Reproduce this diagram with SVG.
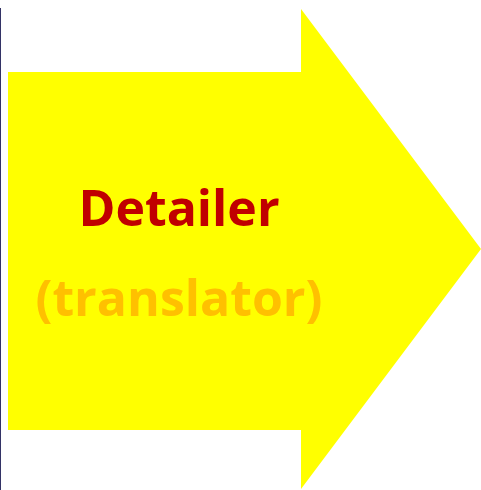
<svg xmlns="http://www.w3.org/2000/svg" width="481" height="490" viewBox="0 0 481 490">
<style>
.lbl{font-family:"Open Sans","Noto Sans",sans-serif;font-weight:bold;text-anchor:middle}
</style>
<rect width="481" height="490" fill="#ffffff"/>
<line x1="0.5" y1="8" x2="0.5" y2="490" stroke="#333366" stroke-width="1"/>
<g id="arrow">
<polygon points="8,72 301,72 301,9 481,249 301,489 301,430 8,430" fill="#ffff00"/>
<text class="lbl" x="179" y="226" font-size="50" fill="#c00000">Detailer</text>
<text class="lbl" x="179" y="316" font-size="50" fill="#ffc000">(translator)</text>
</g>
</svg>
